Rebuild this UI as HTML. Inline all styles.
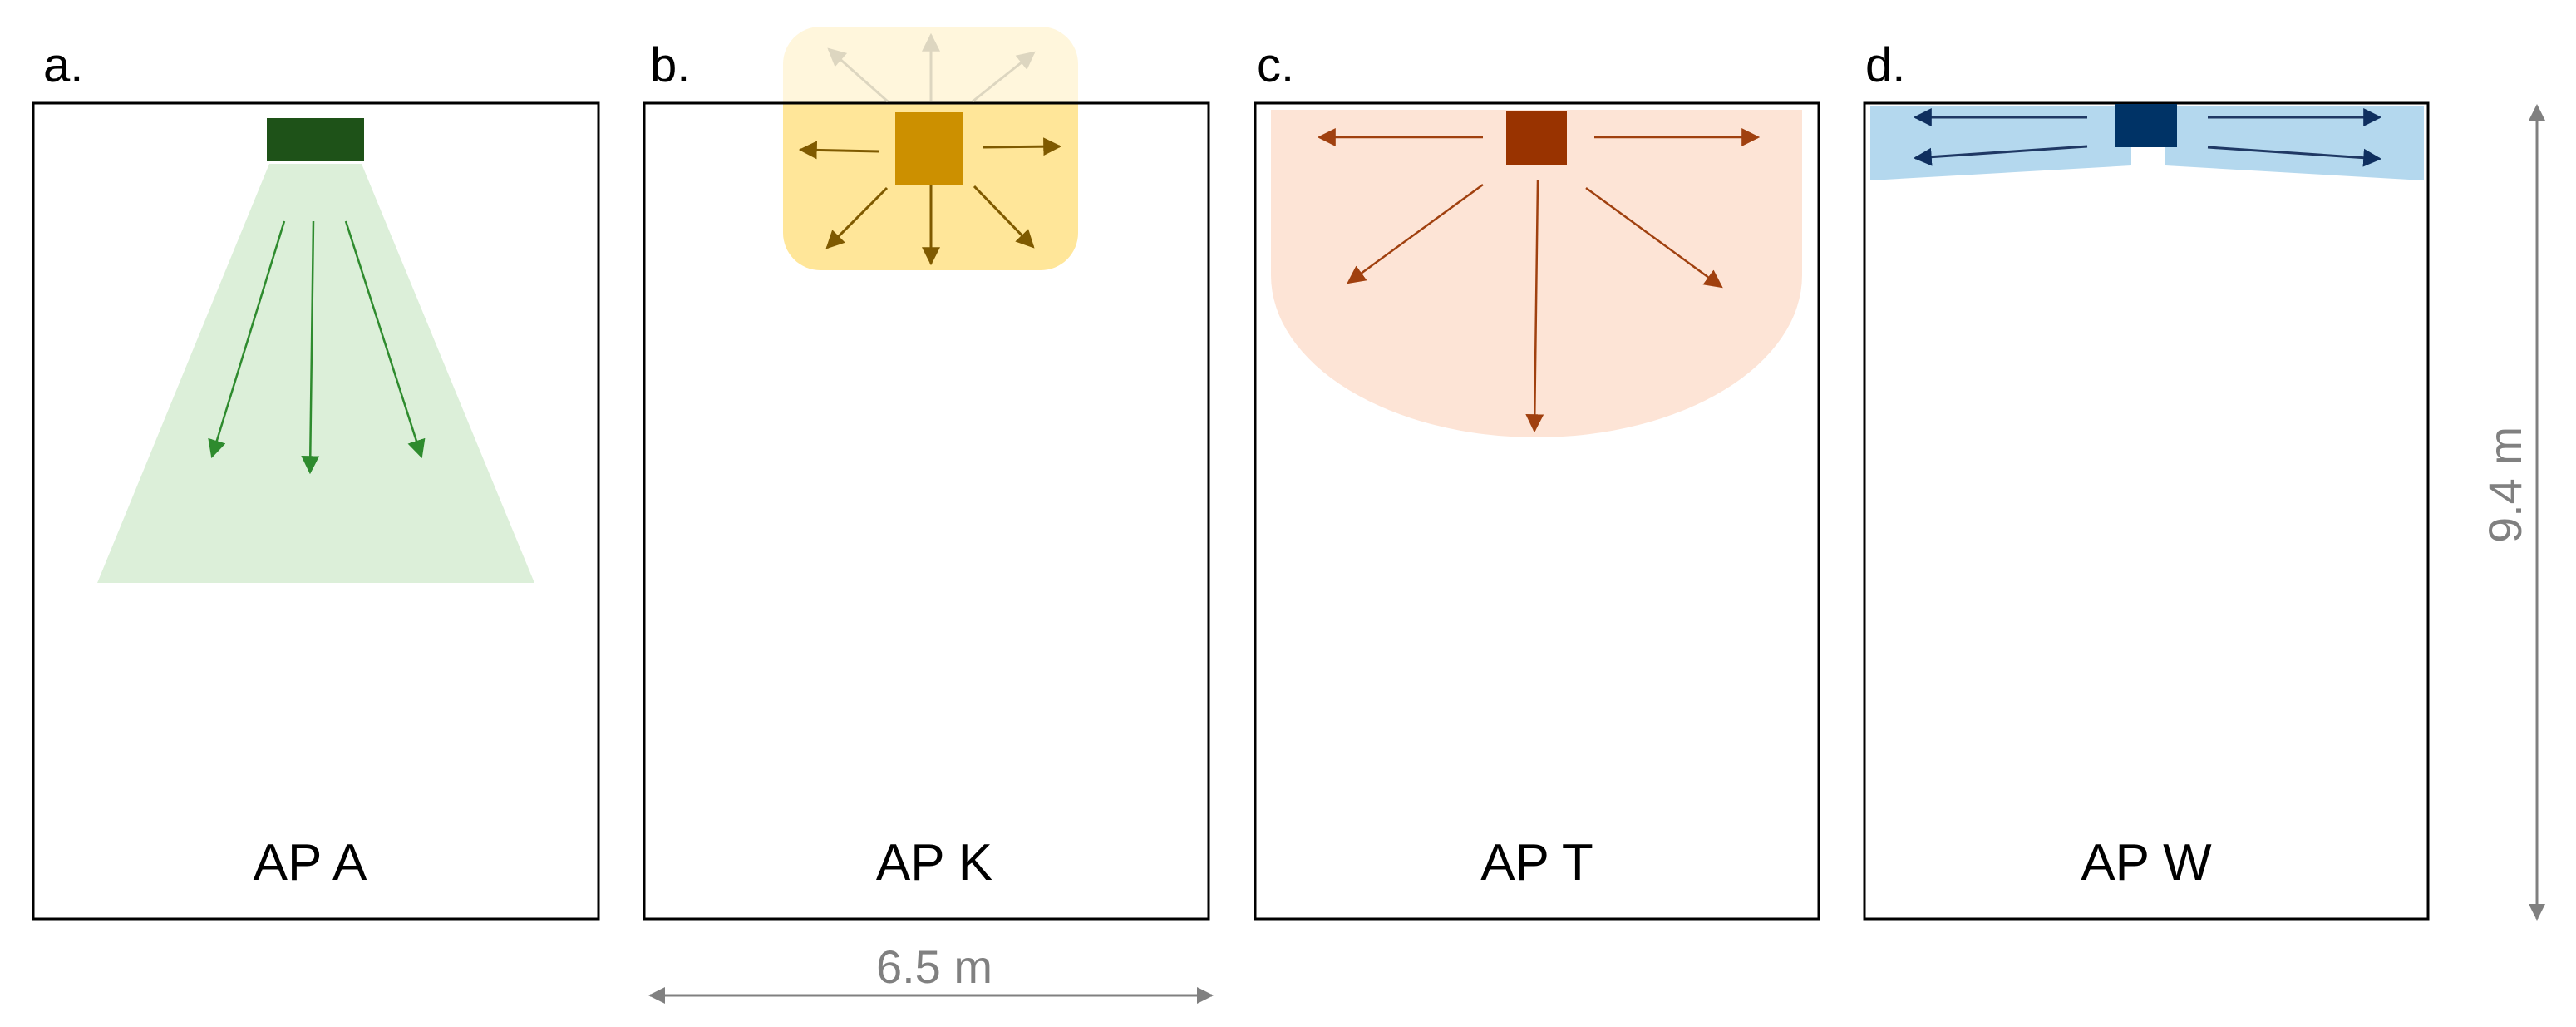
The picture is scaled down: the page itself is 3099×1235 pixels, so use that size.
<!DOCTYPE html>
<html><head><meta charset="utf-8"><style>html,body{margin:0;padding:0;background:#fff}svg{display:block}</style></head>
<body>
<svg width="3099" height="1235" viewBox="0 0 3099 1235" xmlns="http://www.w3.org/2000/svg" font-family="Liberation Sans, sans-serif">
<defs>
<marker id="mg" viewBox="0 0 10 10" refX="9" refY="5" markerWidth="22" markerHeight="22" orient="auto" markerUnits="userSpaceOnUse"><path d="M0,0L10,5L0,10z" fill="#2e8b2e"/></marker>
<marker id="my" viewBox="0 0 10 10" refX="9" refY="5" markerWidth="22" markerHeight="22" orient="auto" markerUnits="userSpaceOnUse"><path d="M0,0L10,5L0,10z" fill="#7f5a00"/></marker>
<marker id="myl" viewBox="0 0 10 10" refX="9" refY="5" markerWidth="22" markerHeight="22" orient="auto" markerUnits="userSpaceOnUse"><path d="M0,0L10,5L0,10z" fill="#ddd6c0"/></marker>
<marker id="mo" viewBox="0 0 10 10" refX="9" refY="5" markerWidth="22" markerHeight="22" orient="auto" markerUnits="userSpaceOnUse"><path d="M0,0L10,5L0,10z" fill="#a0400f"/></marker>
<marker id="mb" viewBox="0 0 10 10" refX="9" refY="5" markerWidth="22" markerHeight="22" orient="auto" markerUnits="userSpaceOnUse"><path d="M0,0L10,5L0,10z" fill="#0f2f5f"/></marker>
<marker id="mgr" viewBox="0 0 10 10" refX="9" refY="5" markerWidth="20" markerHeight="20" orient="auto" markerUnits="userSpaceOnUse"><path d="M0,0L10,5L0,10z" fill="#808080"/></marker>
</defs>

<g font-size="58" fill="#000">
<text x="52" y="98">a.</text>
<text x="782" y="98">b.</text>
<text x="1512" y="98">c.</text>
<text x="2244" y="98">d.</text>
</g>

<!-- Panel a -->
<rect x="40" y="124" width="680" height="981" fill="#fff" stroke="#000" stroke-width="3"/>
<polygon points="324,197 435,197 643,701 117,701" fill="#dcefd9"/>
<rect x="321" y="142" width="117" height="52" fill="#1e5218"/>
<g stroke="#2e8b2e" stroke-width="2.5" fill="none">
<line x1="342" y1="266" x2="255" y2="549" marker-end="url(#mg)"/>
<line x1="377" y1="266" x2="373" y2="568" marker-end="url(#mg)"/>
<line x1="416" y1="266" x2="507" y2="549" marker-end="url(#mg)"/>
</g>

<!-- Panel b -->
<rect x="775" y="124" width="679" height="981" fill="#fff" stroke="#000" stroke-width="3"/>
<clipPath id="ct"><rect x="900" y="0" width="500" height="124"/></clipPath>
<clipPath id="cb"><rect x="900" y="124" width="500" height="300"/></clipPath>
<rect x="942" y="32" width="355" height="293" rx="45" fill="#fff6dc" clip-path="url(#ct)"/>
<rect x="942" y="32" width="355" height="293" rx="45" fill="#ffe699" clip-path="url(#cb)"/>
<line x1="775" y1="124" x2="1454" y2="124" stroke="#000" stroke-width="3"/>
<rect x="1077" y="135" width="82" height="87" fill="#cc9000"/>
<g stroke="#7f5a00" stroke-width="3" fill="none">
<line x1="1058" y1="182" x2="963" y2="180" marker-end="url(#my)"/>
<line x1="1182" y1="177" x2="1275" y2="176" marker-end="url(#my)"/>
<line x1="1120" y1="223" x2="1120" y2="317" marker-end="url(#my)"/>
<line x1="1067" y1="226" x2="995" y2="298" marker-end="url(#my)"/>
<line x1="1172" y1="224" x2="1243" y2="297" marker-end="url(#my)"/>
</g>
<g stroke="#ddd6c0" stroke-width="3" fill="none">
<line x1="1120" y1="122" x2="1120" y2="42" marker-end="url(#myl)"/>
<line x1="1068" y1="122" x2="997" y2="59" marker-end="url(#myl)"/>
<line x1="1170" y1="122" x2="1244" y2="63" marker-end="url(#myl)"/>
</g>

<!-- Panel c -->
<rect x="1510" y="124" width="678" height="981" fill="#fff" stroke="#000" stroke-width="3"/>
<path d="M1529,132 L2168,132 L2168,331 A319.5,195 0 0 1 1529,331 Z" fill="#fde4d6"/>
<rect x="1812" y="134" width="73" height="65" fill="#993300"/>
<g stroke="#a0400f" stroke-width="2.5" fill="none">
<line x1="1784" y1="165" x2="1587" y2="165" marker-end="url(#mo)"/>
<line x1="1918" y1="165" x2="2115" y2="165" marker-end="url(#mo)"/>
<line x1="1850" y1="217" x2="1846" y2="518" marker-end="url(#mo)"/>
<line x1="1784" y1="222" x2="1622" y2="340" marker-end="url(#mo)"/>
<line x1="1908" y1="226" x2="2071" y2="345" marker-end="url(#mo)"/>
</g>

<!-- Panel d -->
<rect x="2243" y="124" width="678" height="981" fill="#fff" stroke="#000" stroke-width="3"/>
<polygon points="2250,128 2564,128 2564,199 2250,217" fill="#b4d8ee"/>
<polygon points="2605,128 2916,128 2916,217 2605,199" fill="#b4d8ee"/>
<rect x="2545" y="125" width="74" height="52" fill="#003366"/>
<g stroke="#1f3864" stroke-width="3" fill="none">
<line x1="2511" y1="141" x2="2304" y2="141" marker-end="url(#mb)"/>
<line x1="2511" y1="176" x2="2304" y2="190" marker-end="url(#mb)"/>
<line x1="2656" y1="141" x2="2863" y2="141" marker-end="url(#mb)"/>
<line x1="2656" y1="177" x2="2863" y2="191" marker-end="url(#mb)"/>
</g>

<g font-size="62" fill="#000" text-anchor="middle">
<text x="373" y="1058">AP A</text>
<text x="1124" y="1058">AP K</text>
<text x="1849" y="1058">AP T</text>
<text x="2582" y="1058">AP W</text>
</g>

<g stroke="#808080" stroke-width="3" fill="none">
<line x1="1120" y1="1197" x2="782" y2="1197" marker-end="url(#mgr)"/>
<line x1="1120" y1="1197" x2="1458" y2="1197" marker-end="url(#mgr)"/>
<line x1="3052" y1="600" x2="3052" y2="127" marker-end="url(#mgr)"/>
<line x1="3052" y1="600" x2="3052" y2="1105" marker-end="url(#mgr)"/>
</g>
<text x="1124" y="1182" font-size="56" fill="#808080" text-anchor="middle">6.5 m</text>
<text x="0" y="0" font-size="56" fill="#808080" text-anchor="middle" transform="translate(3033,583) rotate(-90)">9.4 m</text>
</svg>
</body></html>
